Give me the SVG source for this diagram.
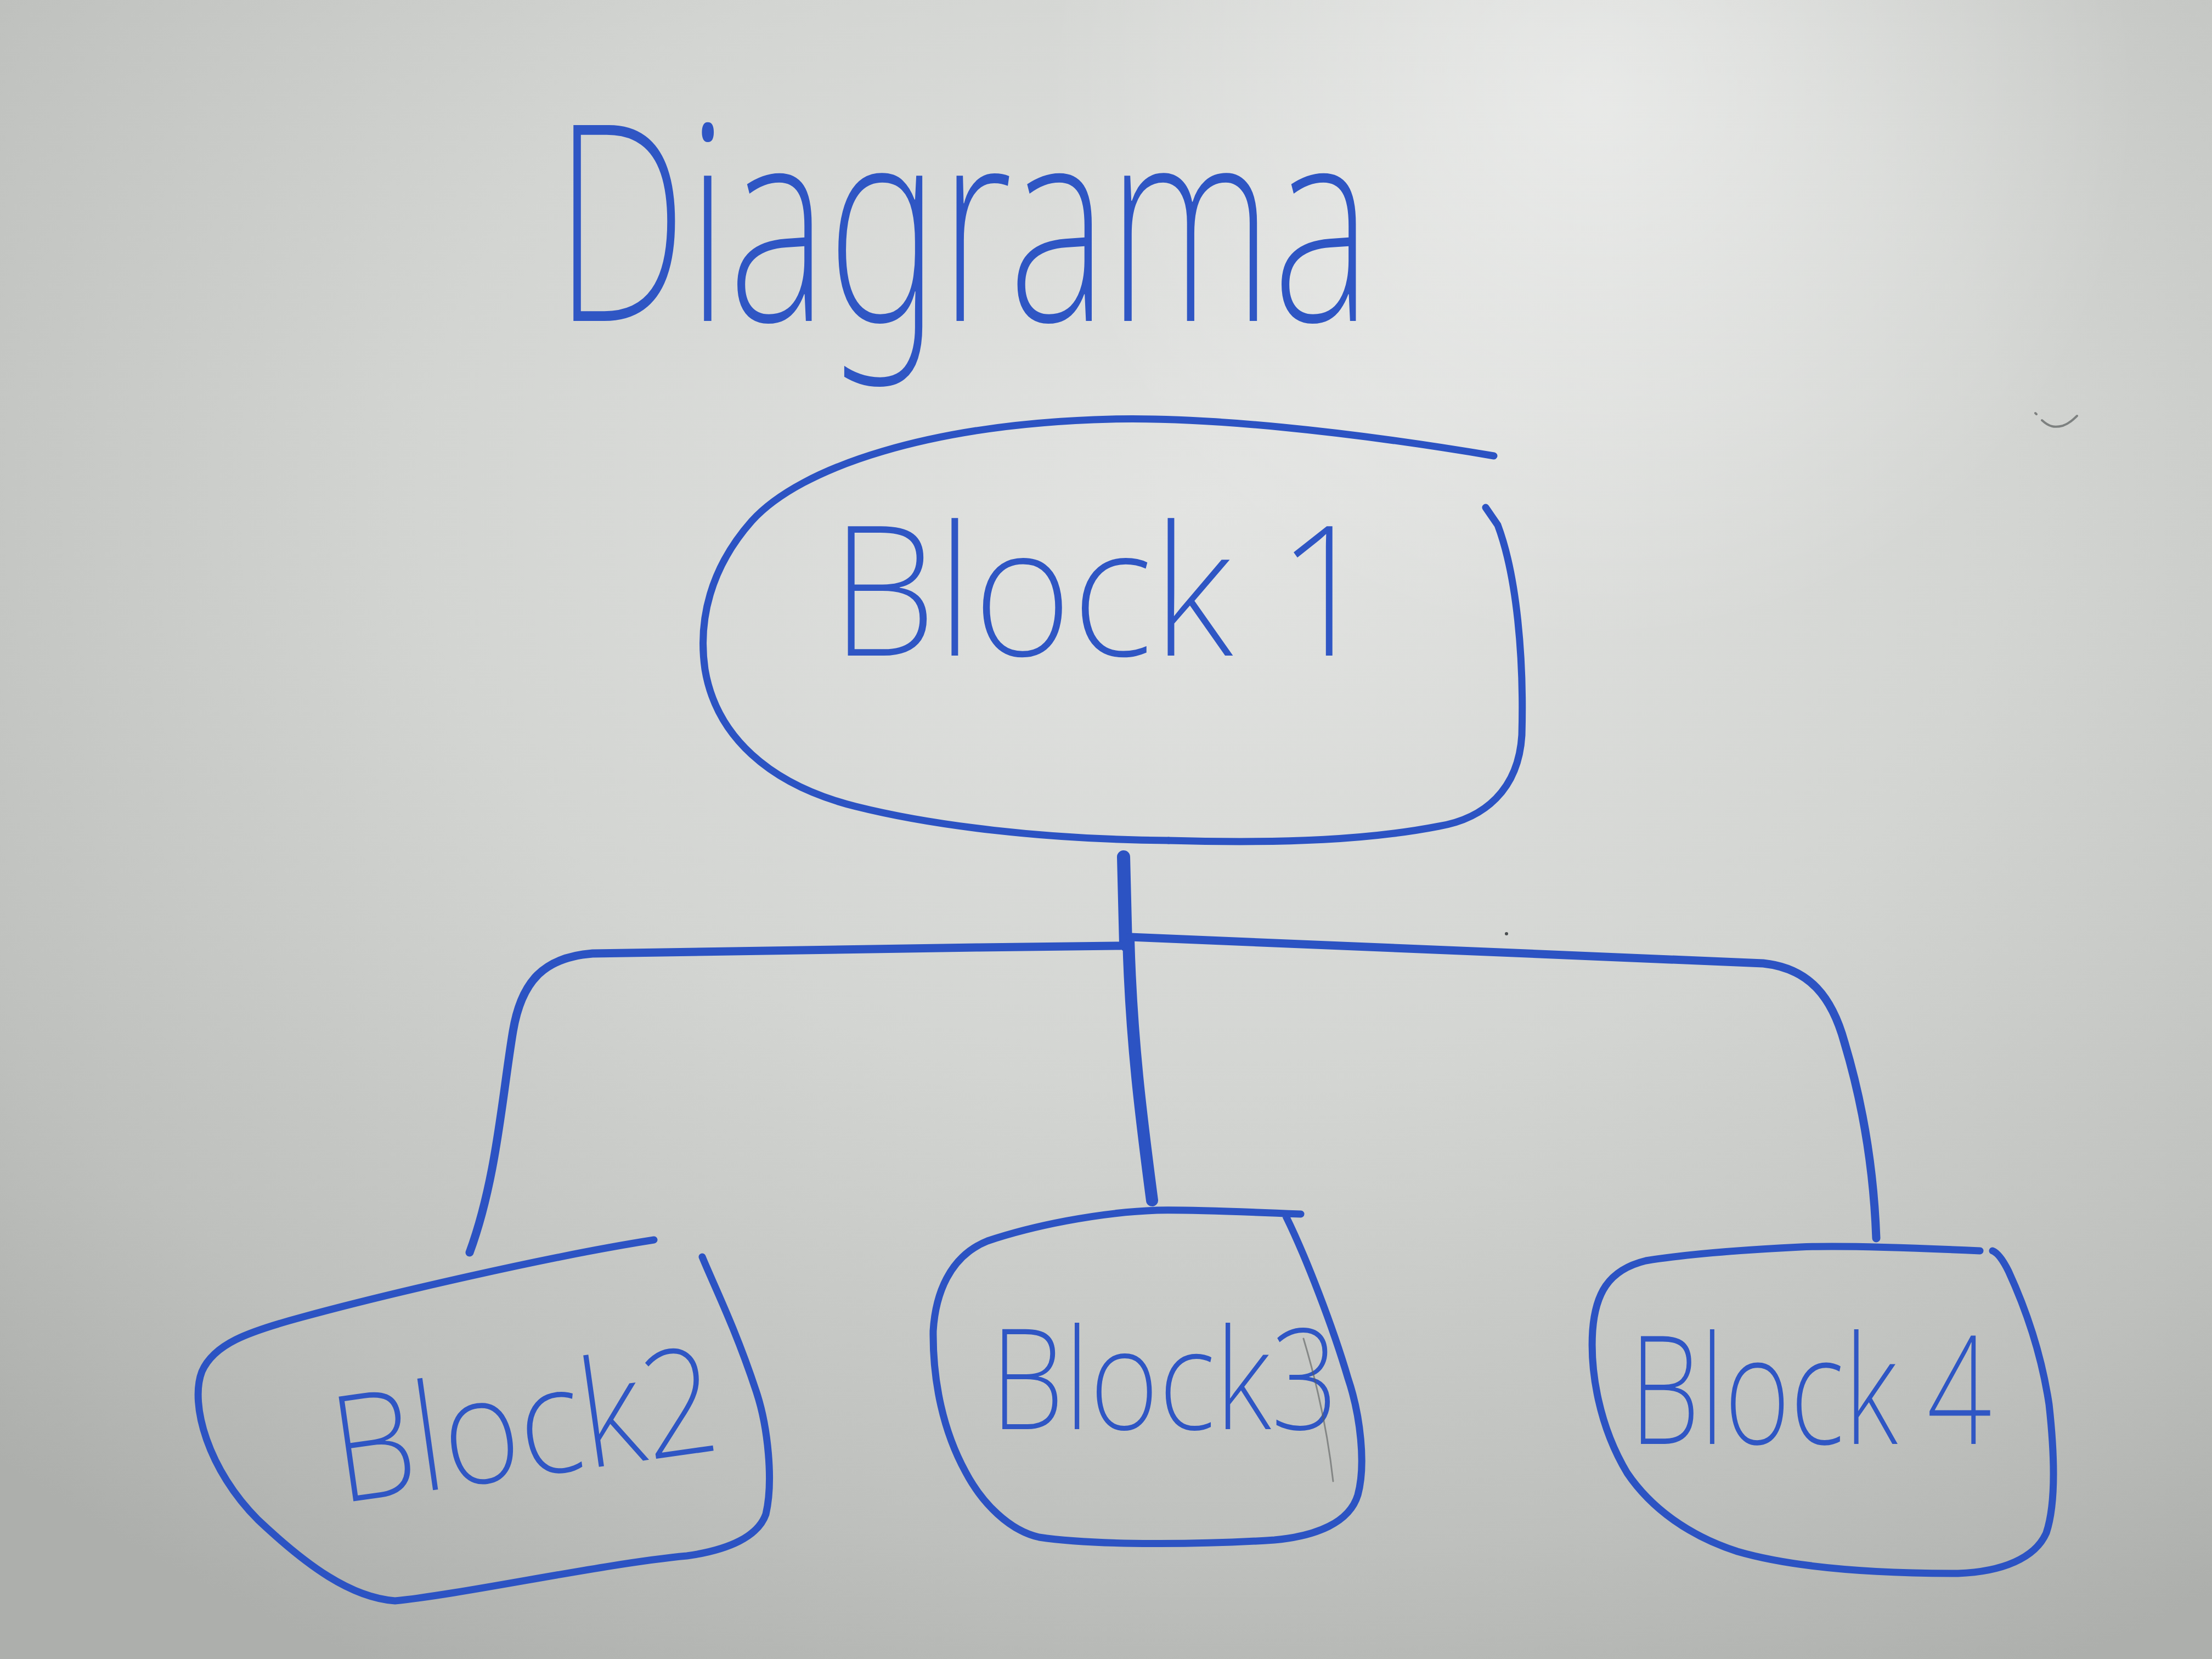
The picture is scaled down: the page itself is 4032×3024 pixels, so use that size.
<svg xmlns="http://www.w3.org/2000/svg" width="4032" height="3024" viewBox="0 0 4032 3024">
  <defs>
    <radialGradient id="board" cx="0.55" cy="0.3" r="0.8">
      <stop offset="0" stop-color="#e3e4e2"/>
      <stop offset="0.45" stop-color="#d3d5d2"/>
      <stop offset="0.8" stop-color="#bec0bd"/>
      <stop offset="1" stop-color="#adafac"/>
    </radialGradient>
    <radialGradient id="glare" gradientUnits="userSpaceOnUse" cx="2900" cy="180" r="1000">
      <stop offset="0" stop-color="#ffffff" stop-opacity="0.45"/>
      <stop offset="1" stop-color="#ffffff" stop-opacity="0"/>
    </radialGradient>
    <style>
      .ink { fill: none; stroke: #2c53c3; stroke-linecap: round; stroke-linejoin: round; }
      .box { stroke-width: 13; }
      .wire { stroke-width: 15; }
      .hand { fill: #2f56c4; font-family: "Noto Sans", "Liberation Sans", sans-serif; font-weight: 200; }
      .smudge { fill: none; stroke: #5a5e5e; stroke-linecap: round; }
    </style>
  </defs>

  <rect x="0" y="0" width="4032" height="3024" fill="url(#board)"/>
  <rect x="0" y="0" width="4032" height="3024" fill="url(#glare)"/>

  <g id="title">
    <text class="hand" x="1010" y="585" font-size="500" textLength="1490" lengthAdjust="spacingAndGlyphs">Diagrama</text>
  </g>

  <g id="connectors" class="ink">
    <path d="M 2048 1562 L 2052 1722" stroke-width="24"/>
    <path d="M 2057 1712 C 2062 1900, 2082 2050, 2100 2188" stroke-width="22"/>
    <path class="wire" d="M 2042 1724 C 1700 1728, 1300 1732, 1080 1738 C 990 1745, 950 1790, 935 1880 C 915 2000, 905 2150, 856 2283"/>
    <path class="wire" d="M 2060 1708 C 2500 1725, 2900 1745, 3214 1756 C 3300 1765, 3340 1820, 3362 1900 C 3392 2000, 3415 2120, 3420 2257"/>
  </g>

  <g id="block1">
    <path class="ink box" d="M 2723 831 C 2450 785, 2200 760, 2026 764 C 1700 772, 1460 850, 1370 950 C 1295 1035, 1272 1130, 1285 1220 C 1305 1340, 1400 1430, 1560 1470 C 1700 1505, 1900 1530, 2130 1532"/>
    <path class="ink box" d="M 2708 925 L 2730 957 C 2765 1050, 2778 1200, 2774 1340 C 2768 1440, 2705 1492, 2623 1506 C 2500 1530, 2350 1538, 2130 1532"/>
    <text class="hand" x="1514" y="1195" font-size="330" textLength="990" lengthAdjust="spacingAndGlyphs">Block 1</text>
  </g>

  <g id="block2">
    <path class="ink box" d="M 1192 2260 C 1000 2290, 700 2360, 550 2401 C 450 2428, 390 2450, 368 2500 C 345 2560, 380 2680, 470 2770 C 560 2855, 640 2912, 720 2918 C 850 2905, 1100 2850, 1252 2836 C 1330 2825, 1382 2800, 1396 2760 C 1410 2700, 1400 2600, 1378 2535 C 1340 2420, 1300 2340, 1280 2291"/>
    <text class="hand" x="620" y="2740" font-size="270" textLength="705" lengthAdjust="spacingAndGlyphs" transform="rotate(-8 620 2740)">Block2</text>
  </g>

  <g id="block3">
    <path class="ink box" d="M 2371 2213 C 2250 2208, 2150 2205, 2109 2206 C 2000 2210, 1880 2235, 1800 2262 C 1730 2290, 1705 2360, 1701 2426 C 1700 2520, 1720 2610, 1760 2683 C 1790 2740, 1840 2790, 1894 2802 C 2000 2818, 2200 2815, 2323 2807 C 2400 2800, 2460 2775, 2475 2725 C 2490 2670, 2480 2580, 2457 2512 C 2430 2420, 2380 2290, 2344 2217"/>
    <text class="hand" x="1805" y="2605" font-size="255" textLength="635" lengthAdjust="spacingAndGlyphs">Block3</text>
    <path class="smudge" d="M 2376 2440 C 2400 2520, 2420 2610, 2430 2700" stroke-width="3" opacity="0.6"/>
  </g>

  <g id="block4">
    <path class="ink box" d="M 3609 2280 C 3500 2275, 3350 2270, 3282 2273 C 3180 2278, 3080 2285, 3000 2298 C 2930 2315, 2908 2360, 2903 2425 C 2898 2500, 2915 2600, 2966 2685 C 3010 2750, 3080 2800, 3167 2828 C 3260 2855, 3400 2868, 3569 2868 C 3650 2865, 3710 2840, 3730 2794 C 3748 2740, 3745 2650, 3735 2560 C 3720 2460, 3690 2380, 3661 2317 C 3650 2295, 3640 2283, 3632 2280"/>
    <text class="hand" x="2970" y="2632" font-size="275" textLength="660" lengthAdjust="spacingAndGlyphs">Block 4</text>
  </g>

  <path class="smudge" d="M 3710 753 L 3712 755 M 3722 766 C 3735 778, 3745 780, 3760 776 C 3772 772, 3780 764, 3786 758" stroke-width="4" opacity="0.7"/>
  <circle cx="2746" cy="1702" r="3" fill="#4a4e50"/>
</svg>
